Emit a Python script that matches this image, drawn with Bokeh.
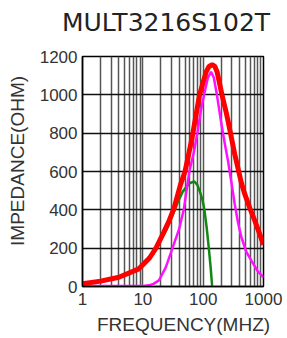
from bokeh.plotting import figure
from bokeh.models import FixedTicker, Range1d, Div
from bokeh.layouts import column
from bokeh.embed import file_html
from bokeh.resources import INLINE

title_text = "MULT3216S102T"
x_label = "FREQUENCY(MHZ)"
y_label = "IMPEDANCE(OHM)"

x_major = [1, 10, 100, 1000]
x_minor = [2, 3, 4, 5, 6, 7, 8, 9, 20, 30, 40, 50, 60, 70, 80, 90,
           200, 300, 400, 500, 600, 700, 800, 900]
x_tick_labels = ["1", "10", "100", "1000"]
y_major = [0, 200, 400, 600, 800, 1000, 1200]

# Z (impedance) - red
freq_z = [1, 2, 4, 8.6, 13, 16.5, 22, 27, 33, 42, 50, 65, 87, 112, 125, 141,
          155, 170, 205, 241, 258, 333, 430, 488, 600, 717, 850, 1000]
z_ohm = [14, 28, 48, 92, 150, 200, 280, 340, 410, 530, 600, 770, 1000, 1120,
         1148, 1157, 1150, 1120, 1000, 908, 865, 691, 540, 483, 405, 344, 280, 219]

# R (resistance) - magenta
freq_r = [1, 5, 10, 12.6, 15, 18.5, 24, 31, 40, 47.6, 59, 70, 80, 92, 105, 120,
          135, 150, 169, 200, 230, 258, 293, 333, 380, 430, 520, 630, 800, 1000]
r_ohm = [2, 2, 3, 6, 14, 32, 100, 200, 300, 400, 600, 700, 800, 920, 1010, 1090,
         1120, 1090, 1000, 850, 740, 656, 545, 431, 330, 257, 180, 135, 80, 48]

# X (reactance) - green
freq_x = [1, 2, 4, 8.6, 13, 18.5, 25, 31, 38, 45.8, 59, 71.6, 80, 87, 96, 105,
          115, 124, 133, 141]
x_ohm = [12, 26, 46, 88, 148, 225, 300, 370, 440, 495, 539, 548, 530, 500, 460,
         400, 300, 200, 100, 0]

NBSP = "\u00a0"

title_div = Div(
    text=('<div style="font-family:\'DejaVu Sans\';font-size:25px;'
          'color:#222222;padding-left:62px;padding-top:8px;'
          'line-height:normal;white-space:nowrap;">' + title_text + '</div>'),
    width=287, height=40, margin=0)

p = figure(frame_width=181, frame_height=230, x_axis_type="log",
           x_range=Range1d(1, 1000), y_range=Range1d(0, 1200),
           output_backend="svg", toolbar_location=None,
           min_border_left=82, min_border_right=24, min_border_top=16,
           min_border_bottom=40, background_fill_color="white",
           border_fill_color="white", margin=0)

p.outline_line_color = "black"
p.outline_line_width = 1.5

xt = FixedTicker(ticks=x_major, minor_ticks=x_minor)
p.xaxis.ticker = xt
p.xgrid.ticker = xt
p.xaxis.major_label_overrides = {v: s for v, s in zip(x_major, x_tick_labels)}
p.yaxis.ticker = FixedTicker(ticks=y_major)

p.xgrid.grid_line_color = "#555555"
p.xgrid.grid_line_width = 1.5
p.xgrid.minor_grid_line_color = "#555555"
p.xgrid.minor_grid_line_width = 1.5
p.ygrid.grid_line_color = "#111111"
p.ygrid.grid_line_width = 1.5

for ax in (p.xaxis[0], p.yaxis[0]):
    ax.axis_line_color = "black"
    ax.axis_line_width = 1.5
    ax.major_tick_line_color = None
    ax.minor_tick_line_color = None
    ax.major_tick_out = 0
    ax.major_tick_in = 0
    ax.minor_tick_out = 0
    ax.minor_tick_in = 0
    ax.major_label_text_font = "Liberation Sans"
    ax.major_label_text_font_size = "17px"
    ax.major_label_text_color = "#333333"
    ax.axis_label_text_font = "Liberation Sans"
    ax.axis_label_text_font_size = "19px"
    ax.axis_label_text_font_style = "normal"
    ax.axis_label_text_color = "#333333"

# leading no-break spaces shift the centred axis titles as in the reference
p.xaxis.axis_label = NBSP * 4 + x_label
p.yaxis.axis_label = NBSP * 4 + y_label
p.xaxis.major_label_standoff = 6
p.xaxis.axis_label_standoff = 6
p.yaxis.major_label_standoff = 5
p.yaxis.axis_label_standoff = 9

p.line(freq_x, x_ohm, line_color="#118811", line_width=2.5)
p.line(freq_r, r_ohm, line_color="#ff11ff", line_width=2.5)
p.line(freq_z, z_ohm, line_color="#ff0000", line_width=5)

layout = column(title_div, p, spacing=0)

open("out.html", "w").write(file_html(layout, INLINE))
